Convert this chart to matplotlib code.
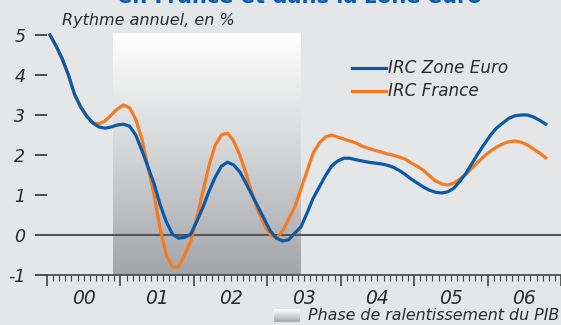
import numpy as np
import matplotlib
matplotlib.use('Agg')
import matplotlib.pyplot as plt
from matplotlib.colors import LinearSegmentedColormap
from matplotlib.transforms import blended_transform_factory
from matplotlib.lines import Line2D

# ---------------- data (monthly, Jan 2000 .. Oct 2006) ----------------
zone_euro = [5.0, 4.72, 4.4, 4.0, 3.52, 3.2, 2.97, 2.8, 2.7, 2.67, 2.7, 2.75,
             2.77, 2.72, 2.5, 2.12, 1.7, 1.28, 0.75, 0.33, 0.02, -0.08, -0.06, 0.02,
             0.35, 0.7, 1.1, 1.45, 1.72, 1.82, 1.75, 1.58, 1.3, 1.0, 0.7, 0.4,
             0.1, -0.08, -0.15, -0.12, 0.05, 0.2, 0.55, 0.92, 1.2, 1.48, 1.72, 1.85,
             1.92, 1.92, 1.88, 1.85, 1.82, 1.8, 1.78, 1.75, 1.7, 1.62, 1.52, 1.4,
             1.3, 1.2, 1.12, 1.07, 1.05, 1.08, 1.17, 1.35, 1.55, 1.8, 2.05, 2.28,
             2.5, 2.68, 2.8, 2.92, 2.98, 3.0, 3.0, 2.95, 2.87, 2.77]
france = [5.0, 4.72, 4.4, 4.0, 3.52, 3.2, 2.97, 2.8, 2.78, 2.85, 3.0, 3.15,
          3.25, 3.18, 2.9, 2.4, 1.7, 1.0, 0.15, -0.5, -0.8, -0.8, -0.5, -0.15,
          0.45, 1.1, 1.75, 2.25, 2.5, 2.55, 2.35, 2.0, 1.55, 1.05, 0.6, 0.25,
          0.0, -0.08, 0.1, 0.4, 0.7, 1.15, 1.6, 2.05, 2.3, 2.45, 2.5, 2.45,
          2.4, 2.35, 2.3, 2.22, 2.17, 2.12, 2.08, 2.03, 2.0, 1.95, 1.9, 1.8,
          1.72, 1.62, 1.48, 1.35, 1.28, 1.25, 1.3, 1.4, 1.52, 1.68, 1.83, 1.98,
          2.1, 2.2, 2.28, 2.33, 2.35, 2.32, 2.25, 2.15, 2.05, 1.93]
months = np.arange(len(zone_euro))
dates = 2000 + (months + 0.5) / 12.0

years = [2000, 2001, 2002, 2003, 2004, 2005, 2006]
year_labels = ['00', '01', '02', '03', '04', '05', '06']
y_ticks = [-1, 0, 1, 2, 3, 4, 5]
y_labels = ['-1', '0', '1', '2', '3', '4', '5']
slowdown_start, slowdown_end = 2000.9, 2003.46

series_names = ['IRC Zone Euro', 'IRC France']
title = 'en France et dans la zone euro'
unit_label = 'Rythme annuel, en %'
note = 'Phase de ralentissement du PIB'

# ---------------- style ----------------
BG = '#e5e6e8'
BLUE = '#0b5aa8'
ORANGE = '#f47b20'
TXT = '#2a2a2a'
plt.rcParams['font.family'] = ['DejaVu Sans']

W, H = 561, 325
fig = plt.figure(figsize=(W / 100, H / 100), dpi=100, facecolor=BG)
renderer = fig.canvas.get_renderer()


def fit_text(t, target_w, max_fs):
    bb = t.get_window_extent(renderer=renderer)
    fs = t.get_fontsize() * target_w / bb.width
    t.set_fontsize(min(fs, max_fs))
    return t


ax = fig.add_axes([47 / W, 1 - 275 / H, 514 / W, 250 / H])
ax.set_facecolor('none')
ax.set_xlim(2000, 2007)
ax.set_ylim(-1, 5.25)

grad = LinearSegmentedColormap.from_list('g', ['#a4a5a9', '#d3d4d6', '#ffffff'])
ax.imshow(np.linspace(0, 1, 256).reshape(-1, 1), cmap=grad, origin='lower',
          extent=[slowdown_start, slowdown_end, -1, 5.05], aspect='auto', zorder=0)

ax.axhline(0, color='#555555', lw=1.5, zorder=1)
ax.plot(dates, france, color=ORANGE, lw=2.3, zorder=3, solid_joinstyle='round')
ax.plot(dates, zone_euro, color=BLUE, lw=2.3, zorder=4, solid_joinstyle='round')

for s in ['left', 'right', 'top']:
    ax.spines[s].set_visible(False)
ax.spines['bottom'].set_color('#444444')
ax.spines['bottom'].set_linewidth(1.2)

ax.set_yticks(y_ticks)
ax.set_yticklabels(y_labels, fontsize=12.5, style='italic', color=TXT)
ax.tick_params(axis='y', length=8.6, width=1.2, color='#333333', pad=7)

ax.set_xticks(years + [2007])
ax.set_xticklabels([])
ax.set_xticks(np.arange(2000, 2007.001, 1 / 12), minor=True)
ax.tick_params(axis='x', which='major', length=8, width=1.2, color='#444444')
ax.tick_params(axis='x', which='minor', length=4, width=0.8, color='#444444')

tr = blended_transform_factory(ax.transData, fig.transFigure)
for yv, lab in zip(years, year_labels):
    ax.text(yv + 0.5, 1 - 298 / H, lab, transform=tr, ha='center', va='center',
            fontsize=13.5, style='italic', color=TXT)

# unit label
t = fig.text(62 / W, 1 - 21 / H, unit_label, ha='left', va='center', fontsize=11,
             style='italic', color=TXT)
fit_text(t, 173, 11.5)

# title (cut at top, as in the source)
t = fig.text(300 / W, 1 - 3 / H, title, ha='center', va='baseline', fontsize=15,
             fontweight='bold', color='#0a5cb0')
fit_text(t, 366, 16)

# legend
for i, (name, col) in enumerate(zip(series_names, [BLUE, ORANGE])):
    yy = 1 - (68 + 23 * i) / H
    fig.add_artist(Line2D([352 / W, 386 / W], [yy, yy], color=col, lw=2.3,
                          transform=fig.transFigure))
    t = fig.text(388 / W, yy, name, ha='left', va='center', fontsize=12,
                 style='italic', color=TXT)
    if i == 0:
        fit_text(t, 119, 12.5)
        legend_fs = t.get_fontsize()
    else:
        t.set_fontsize(legend_fs)

# footnote with swatch
sw = fig.add_axes([274 / W, 1 - 322 / H, 26 / W, 13 / H])
sw.imshow(np.linspace(0, 1, 64).reshape(-1, 1), cmap=grad, origin='lower',
          aspect='auto')
sw.axis('off')
t = fig.text(308 / W, 1 - 316 / H, note, ha='left', va='center', fontsize=11.5,
             style='italic', color=TXT)
fit_text(t, 252, 12)

fig.savefig('out.png', dpi=100, facecolor=BG)
